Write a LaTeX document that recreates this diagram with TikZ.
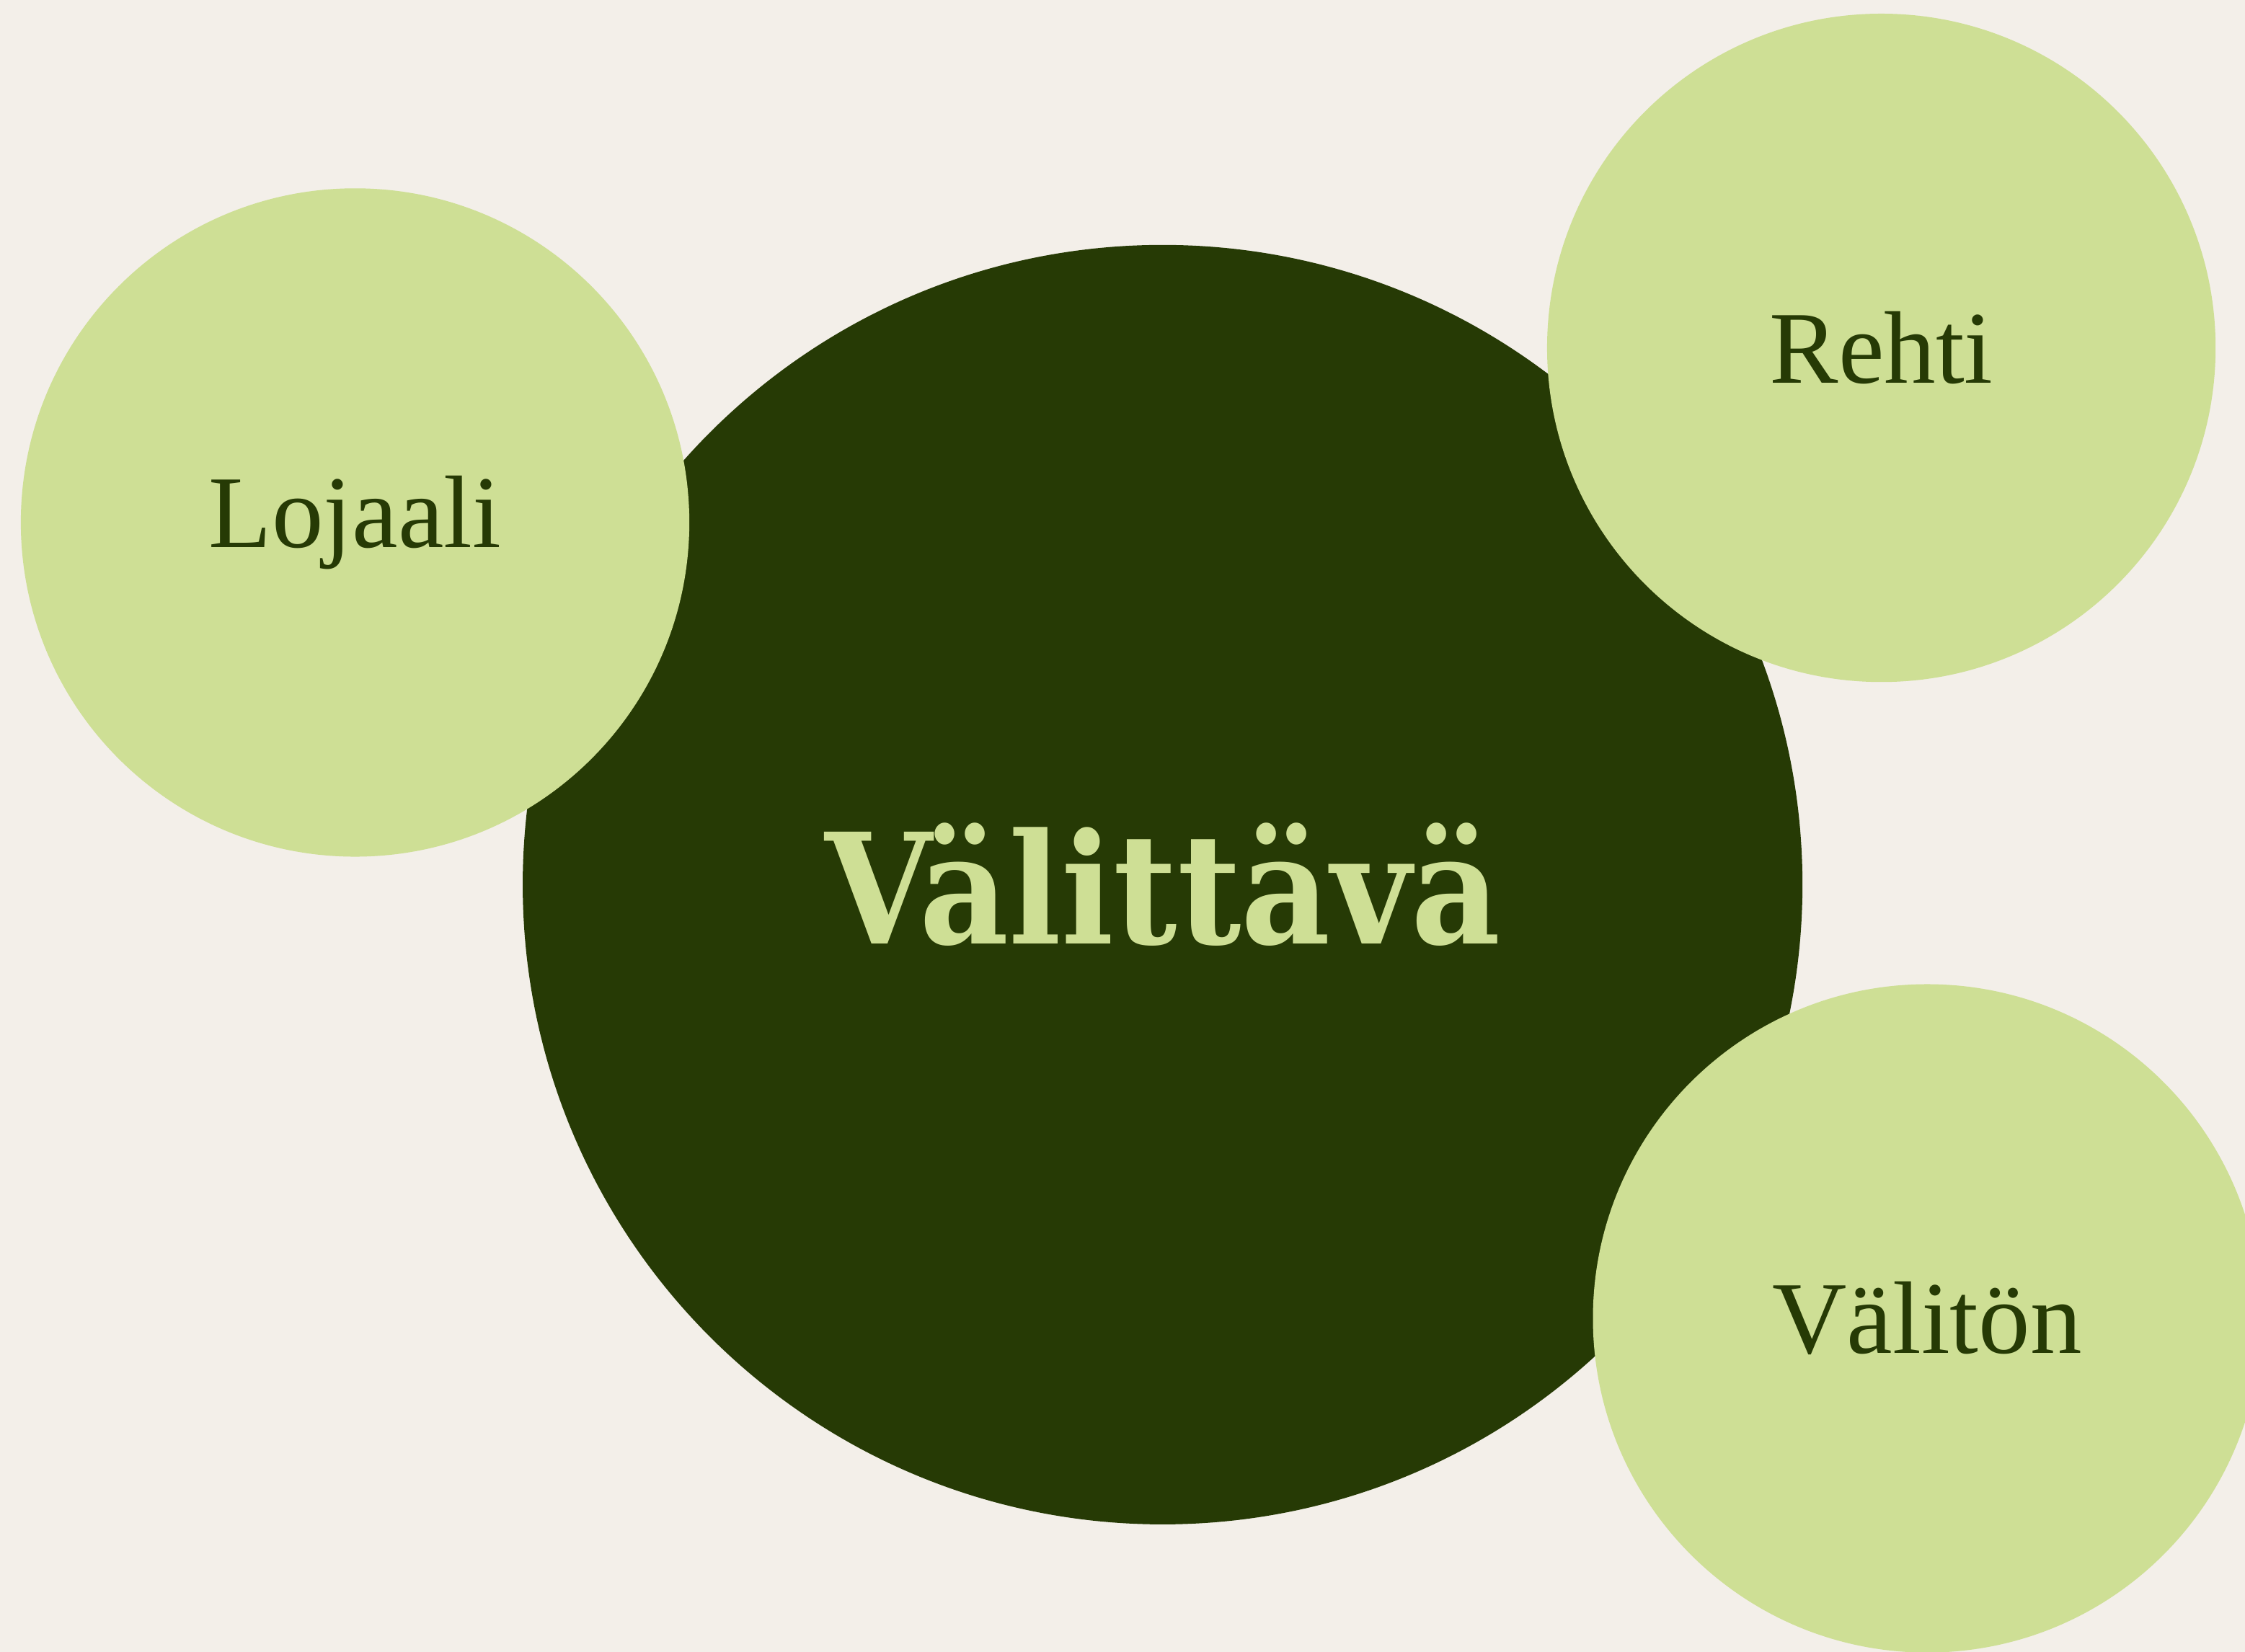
\documentclass[tikz,border=0pt]{standalone}
\usepackage{fontspec}
\setmainfont{Liberation Serif}
\newfontfamily\headfont[FakeStretch=0.9]{DejaVu Serif}
\usetikzlibrary{positioning}
\definecolor{paper}{HTML}{F3EFE9}
\definecolor{leaf}{HTML}{CEDF95}
\definecolor{forest}{HTML}{263A05}
\tikzset{
  bigdisc/.style={circle,fill=forest,text=leaf,inner sep=0pt,minimum size=17.88cm,
    font=\headfont\bfseries\fontsize{61}{66}\selectfont},
  smalldisc/.style={circle,fill=leaf,text=forest,inner sep=0pt,minimum size=9.34cm,
    font=\fontsize{41}{46}\selectfont}
}
\begin{document}
\begin{tikzpicture}[x=0.02cm,y=-0.02cm]
\clip (0,0) rectangle (1568,1154);
\fill [paper] (0,0) rectangle (1568,1154);
% keskellä
\node [bigdisc] (valittava) at (812,618) {Välittävä};
% pienet ympyrät
\node [smalldisc] (lojaali) at (248,365) {Lojaali};
\node [smalldisc] (rehti) at (1314,243) {Rehti};
\node [smalldisc] (valiton) at (1346,921) {Välitön};
\end{tikzpicture}
\end{document}
